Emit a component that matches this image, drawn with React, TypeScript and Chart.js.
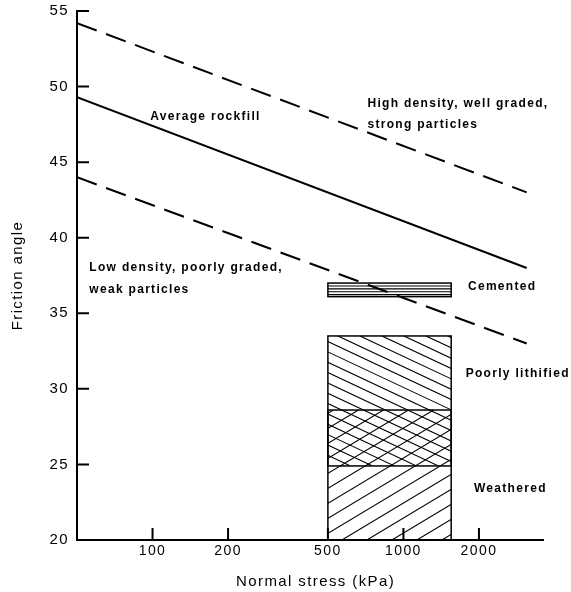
import React, { useEffect, useRef } from 'react';
import { Chart, registerables } from 'chart.js';

Chart.register(...registerables);

// ---- data ----
const stressRange = [50, 3600];
const angleRange = [20, 55];
const stressTicks = [100, 200, 500, 1000, 2000];
const angleTicks = [20, 25, 30, 35, 40, 45, 50, 55];

const lineStress = [50, 3100];
const highDensityAngle = [54.2, 43.0];
const averageAngle = [49.3, 38.0];
const lowDensityAngle = [44.0, 33.0];

const zoneStress = [500, 1550];
const cementedAngle = [36.1, 37.0];
const poorlyLithifiedAngle = [24.9, 33.5];
const weatheredAngle = [20, 28.6];

const labelTexts = [
  'Average rockfill',
  'High density, well graded,',
  'strong particles',
  'Low density, poorly graded,',
  'weak particles',
  'Cemented',
  'Poorly lithified',
  'Weathered',
];
const labelStress = [98, 719, 719, 56, 56, 1808, 1770, 1910];
const labelAngle = [48.04, 48.84, 47.45, 38.03, 36.58, 36.78, 31.01, 23.39];

const FAMILY = '"Liberation Sans", Arial, sans-serif';

function hatch(
  ctx: CanvasRenderingContext2D,
  left: number,
  top: number,
  right: number,
  bottom: number,
  kind: string,
  slope: number,
  gap: number,
  phase: number
) {
  ctx.save();
  ctx.beginPath();
  ctx.rect(left, top, right - left, bottom - top);
  ctx.clip();
  ctx.beginPath();
  if (kind === 'horiz') {
    for (let yy = top + gap; yy < bottom - 0.8; yy += gap) {
      ctx.moveTo(left, yy);
      ctx.lineTo(right, yy);
    }
  } else {
    const span = (bottom - top) / slope;
    let start = left + phase;
    while (start > left - span - gap) start -= gap;
    for (let sx = start; sx < right + gap; sx += gap) {
      if (kind === 'back') {
        ctx.moveTo(sx, top);
        ctx.lineTo(sx + span, bottom);
      } else {
        ctx.moveTo(sx, bottom);
        ctx.lineTo(sx + span, top);
      }
    }
  }
  ctx.stroke();
  ctx.restore();
}

const overlayPlugin = {
  id: 'overlay',
  beforeDraw(chart: any) {
    chart.ctx.letterSpacing = '1.4px';
  },
  beforeDatasetsDraw(chart: any) {
    const { ctx } = chart;
    const xs = chart.scales.x;
    const ys = chart.scales.y;
    const x0 = xs.getPixelForValue(zoneStress[0]);
    const x1 = xs.getPixelForValue(zoneStress[1]);
    const zones = [
      { range: poorlyLithifiedAngle, kind: 'back', slope: 0.47, gap: 22, phase: 10 },
      { range: weatheredAngle, kind: 'fwd', slope: 0.6, gap: 25, phase: 14 },
      { range: cementedAngle, kind: 'horiz', slope: 0, gap: 2.9, phase: 0 },
    ];
    ctx.save();
    ctx.strokeStyle = '#000';
    ctx.lineWidth = 1.1;
    zones.forEach((z) => {
      const top = ys.getPixelForValue(z.range[1]);
      const bottom = ys.getPixelForValue(z.range[0]);
      hatch(ctx, x0, top, x1, bottom, z.kind, z.slope, z.gap, z.phase);
    });
    ctx.lineWidth = 1.5;
    zones.forEach((z) => {
      const top = ys.getPixelForValue(z.range[1]);
      const bottom = ys.getPixelForValue(z.range[0]);
      ctx.strokeRect(x0, top, x1 - x0, bottom - top);
    });
    ctx.restore();
  },
  afterDatasetsDraw(chart: any) {
    const { ctx } = chart;
    const xs = chart.scales.x;
    const ys = chart.scales.y;
    ctx.save();
    ctx.strokeStyle = '#000';
    ctx.lineWidth = 2;
    ctx.beginPath();
    stressTicks.forEach((v) => {
      const px = xs.getPixelForValue(v);
      ctx.moveTo(px, ys.bottom);
      ctx.lineTo(px, ys.bottom - 12);
    });
    angleTicks.forEach((v) => {
      if (v === angleRange[0]) return;
      const py = ys.getPixelForValue(v);
      ctx.moveTo(xs.left, py);
      ctx.lineTo(xs.left + 12, py);
    });
    ctx.stroke();

    ctx.fillStyle = '#000';
    ctx.font = 'bold 12px ' + FAMILY;
    (ctx as any).letterSpacing = '1.3px';
    ctx.textAlign = 'left';
    ctx.textBaseline = 'middle';
    labelTexts.forEach((t, i) => {
      ctx.fillText(t, xs.getPixelForValue(labelStress[i]), ys.getPixelForValue(labelAngle[i]));
    });
    ctx.restore();
  },
};

export default function App() {
  const ref = useRef<HTMLCanvasElement>(null);
  useEffect(() => {
    const mk = (angles: number[], dash: number[]) => ({
      data: lineStress.map((s, i) => ({ x: s, y: angles[i] })),
      borderColor: '#000',
      borderWidth: 2,
      borderDash: dash,
      pointRadius: 0,
      fill: false,
      tension: 0,
    });
    const chart = new Chart(ref.current as HTMLCanvasElement, {
      type: 'line',
      data: {
        datasets: [
          mk(highDensityAngle, [21, 10]),
          mk(averageAngle, []),
          mk(lowDensityAngle, [21, 10]),
        ],
      },
      options: {
        animation: false,
        responsive: true,
        maintainAspectRatio: false,
        layout: { padding: { top: 11, right: 28, left: 0, bottom: 0 } },
        plugins: { legend: { display: false }, tooltip: { enabled: false } },
        scales: {
          x: {
            type: 'logarithmic',
            min: stressRange[0],
            max: stressRange[1],
            afterBuildTicks: (s: any) => {
              s.ticks = stressTicks.map((v) => ({ value: v }));
            },
            afterFit: (s: any) => {
              s.height = 52;
              s.paddingLeft = 0;
              s.paddingRight = 0;
            },
            grid: { display: false, drawTicks: false },
            border: { display: true, color: '#000', width: 2 },
            ticks: {
              color: '#000',
              font: { size: 14, family: FAMILY },
              padding: 3,
              maxRotation: 0,
              autoSkip: false,
              callback: (v: any) => String(v),
            },
            title: {
              display: true,
              text: '  Normal stress (kPa)',
              color: '#000',
              font: { size: 15, family: FAMILY },
              padding: { top: 0, bottom: 1 },
            },
          },
          y: {
            type: 'linear',
            min: angleRange[0],
            max: angleRange[1],
            afterBuildTicks: (s: any) => {
              s.ticks = angleTicks.map((v) => ({ value: v }));
            },
            afterFit: (s: any) => {
              s.width = 77;
              s.paddingTop = 0;
              s.paddingBottom = 0;
            },
            grid: { display: false, drawTicks: false },
            border: { display: true, color: '#000', width: 2 },
            ticks: {
              color: '#000',
              font: { size: 15, family: FAMILY },
              padding: 8,
              callback: (v: any) => String(v),
            },
            title: {
              display: true,
              text: 'Friction angle',
              color: '#000',
              font: { size: 15, family: FAMILY },
              padding: { top: 9, bottom: 0 },
            },
          },
        },
      } as any,
      plugins: [overlayPlugin as any],
    });
    return () => chart.destroy();
  }, []);
  return (
    <div style={{ position: 'fixed', left: 0, top: 0, width: 571, height: 592, background: '#fff' }}>
      <canvas ref={ref} />
    </div>
  );
}
